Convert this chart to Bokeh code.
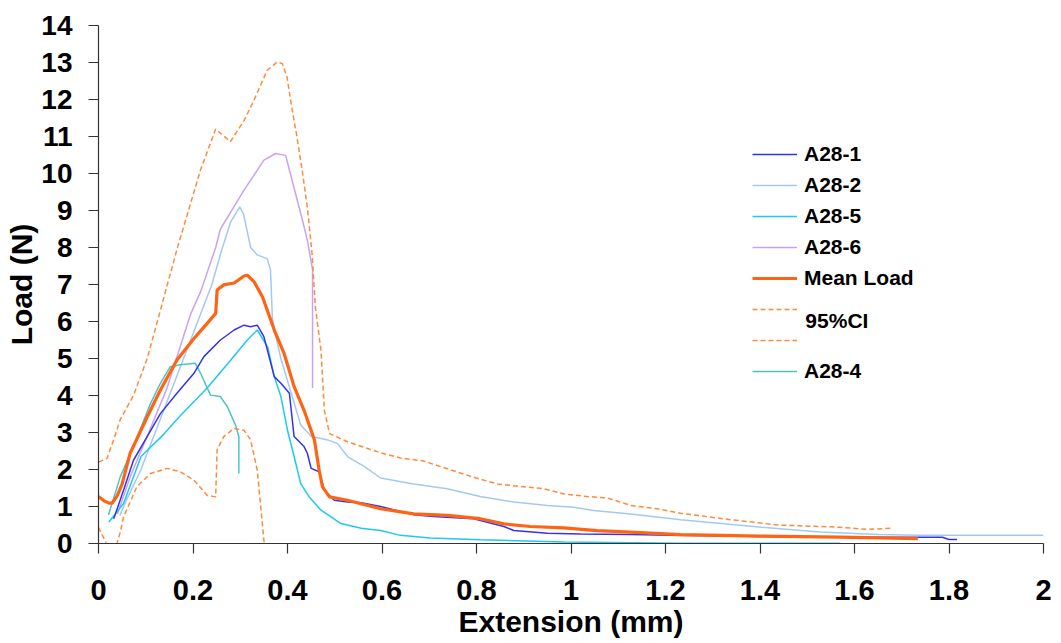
from bokeh.plotting import figure
from bokeh.models import Range1d, Legend, LegendItem, Label, FixedTicker
from bokeh.embed import file_html
from bokeh.resources import INLINE

# ---------------- data ----------------
a28_1_ext = [0.032, 0.035, 0.053, 0.074, 0.103, 0.131, 0.166, 0.202, 0.223, 0.258, 0.287, 0.308, 0.322, 0.336,
             0.350, 0.372, 0.386, 0.404, 0.414, 0.435, 0.442, 0.450, 0.467, 0.478, 0.499, 0.527, 0.556, 0.597,
             0.667, 0.709, 0.794, 0.858, 0.879, 0.950, 1.020, 1.126, 1.211, 1.400, 1.568, 1.786, 1.800, 1.817]
a28_1_load = [0.67, 0.77, 1.44, 2.25, 2.89, 3.51, 4.06, 4.60, 5.05, 5.50, 5.77, 5.90, 5.86, 5.90,
              5.59, 4.51, 4.33, 4.06, 2.89, 2.62, 2.44, 2.03, 1.94, 1.44, 1.17, 1.12, 1.10, 1.00,
              0.78, 0.73, 0.67, 0.46, 0.35, 0.28, 0.26, 0.24, 0.22, 0.19, 0.17, 0.17, 0.11, 0.11]

a28_2_ext = [0.045, 0.060, 0.090, 0.120, 0.150, 0.180, 0.210, 0.240, 0.260, 0.280, 0.299, 0.307, 0.322, 0.336,
             0.357, 0.364, 0.368, 0.372, 0.386, 0.407, 0.428, 0.450, 0.485, 0.506, 0.527, 0.563, 0.597,
             0.667, 0.738, 0.808, 0.879, 0.950, 1.006, 1.048, 1.126, 1.232, 1.404, 1.527, 1.651, 1.734, 2.000]
a28_2_load = [0.75, 1.20, 2.00, 3.00, 4.00, 5.00, 6.00, 7.00, 7.90, 8.70, 9.10, 8.90, 8.00, 7.80,
              7.70, 7.40, 6.10, 5.80, 5.00, 4.10, 3.20, 2.90, 2.80, 2.70, 2.35, 2.08, 1.77,
              1.61, 1.48, 1.27, 1.12, 1.03, 0.98, 0.89, 0.80, 0.64, 0.44, 0.31, 0.24, 0.22, 0.22]

a28_5_ext = [0.022, 0.053, 0.090, 0.138, 0.173, 0.230, 0.280, 0.315, 0.336, 0.358, 0.372, 0.386, 0.400,
             0.414, 0.428, 0.446, 0.471, 0.513, 0.556, 0.597, 0.639, 0.702, 0.808, 0.985, 1.232, 1.570]
a28_5_load = [0.58, 1.08, 2.35, 2.95, 3.45, 4.20, 4.96, 5.50, 5.77, 5.31, 4.51, 3.97, 3.06,
              2.35, 1.62, 1.26, 0.90, 0.54, 0.41, 0.35, 0.22, 0.15, 0.10, 0.04, 0.01, 0.01]

a28_6_ext = [0.040, 0.067, 0.103, 0.145, 0.195, 0.216, 0.248, 0.258, 0.308, 0.350, 0.375, 0.396, 0.406,
             0.428, 0.442, 0.452, 0.453, 0.453]
a28_6_load = [0.80, 1.80, 2.90, 4.20, 6.20, 6.80, 8.00, 8.50, 9.55, 10.36, 10.54, 10.49, 10.00,
              8.92, 8.20, 7.47, 7.40, 4.20]

mean_ext = [0.000, 0.011, 0.022, 0.029, 0.040, 0.050, 0.067, 0.103, 0.131, 0.166, 0.202, 0.230, 0.248, 0.251,
            0.265, 0.287, 0.308, 0.315, 0.329, 0.347, 0.372, 0.393, 0.414, 0.435, 0.457, 0.467, 0.474,
            0.489, 0.527, 0.597, 0.667, 0.738, 0.808, 0.858, 0.914, 0.985, 1.055, 1.126, 1.232, 1.400,
            1.568, 1.734]
mean_load = [1.27, 1.16, 1.09, 1.09, 1.30, 1.61, 2.44, 3.42, 4.15, 4.96, 5.54, 5.95, 6.22, 6.85,
             6.99, 7.04, 7.23, 7.25, 7.08, 6.67, 5.77, 5.13, 4.24, 3.60, 2.80, 1.98, 1.53,
             1.26, 1.17, 0.94, 0.80, 0.76, 0.67, 0.53, 0.46, 0.42, 0.35, 0.31, 0.24, 0.20,
             0.17, 0.13]

ci_upper_ext = [0.000, 0.018, 0.032, 0.046, 0.074, 0.103, 0.131, 0.166, 0.216, 0.248, 0.279, 0.308, 0.329,
                0.357, 0.378, 0.389, 0.399, 0.410, 0.420, 0.431, 0.442, 0.452, 0.459, 0.471, 0.478, 0.489,
                0.527, 0.597, 0.639, 0.688, 0.738, 0.794, 0.844, 0.893, 0.942, 0.985, 1.034, 1.077, 1.126,
                1.182, 1.232, 1.321, 1.437, 1.568, 1.627, 1.676]
ci_upper_load = [2.20, 2.30, 2.80, 3.35, 4.00, 5.00, 6.30, 7.95, 10.10, 11.20, 10.86, 11.43, 11.98,
                 12.79, 13.01, 12.97, 12.60, 11.71, 10.99, 10.09, 9.09, 7.83, 6.39, 5.20, 3.60, 2.97,
                 2.75, 2.45, 2.31, 2.23, 2.02, 1.79, 1.61, 1.54, 1.48, 1.34, 1.27, 1.23, 1.03,
                 0.94, 0.82, 0.67, 0.50, 0.44, 0.38, 0.41]

ci_lower_ext = [0.000, 0.015, 0.028, 0.040, 0.047, 0.053, 0.081, 0.110, 0.145, 0.173, 0.202, 0.230, 0.248,
                0.251, 0.265, 0.287, 0.308, 0.322, 0.336, 0.350, 0.360]
ci_lower_load = [0.44, 0.04, -0.40, 0.04, 0.35, 0.72, 1.53, 1.89, 2.03, 1.94, 1.71, 1.30, 1.26,
                 2.53, 2.89, 3.11, 3.06, 2.80, 1.98, 0.09, -0.50]

a28_4_ext = [0.021, 0.046, 0.074, 0.110, 0.131, 0.152, 0.173, 0.205, 0.216, 0.237, 0.258, 0.273, 0.290,
             0.297, 0.297]
a28_4_load = [0.77, 1.80, 2.62, 3.78, 4.33, 4.78, 4.83, 4.87, 4.60, 4.01, 3.97, 3.69, 3.20,
              2.89, 1.89]

x_ticks = [0, 0.2, 0.4, 0.6, 0.8, 1, 1.2, 1.4, 1.6, 1.8, 2]
x_tick_labels = ["0", "0.2", "0.4", "0.6", "0.8", "1", "1.2", "1.4", "1.6", "1.8", "2"]
y_ticks = list(range(0, 15))

# ---------------- figure ----------------
FONT = "Liberation Sans, Arial, sans-serif"

p = figure(width=1058, height=643, output_backend="svg", toolbar_location=None,
           x_range=Range1d(0, 2), y_range=Range1d(0, 14),
           min_border_left=98, min_border_right=15, min_border_top=25, min_border_bottom=100)
p.outline_line_color = None
p.grid.visible = False
p.background_fill_color = "white"
p.border_fill_color = "white"

for ax in (p.xaxis[0], p.yaxis[0]):
    ax.axis_line_color = "#333333"
    ax.axis_line_width = 1.2
    ax.major_tick_line_color = "#333333"
    ax.major_tick_line_width = 1.2
    ax.major_tick_out = 10
    ax.major_tick_in = 0
    ax.minor_tick_out = 0
    ax.minor_tick_in = 0
    ax.major_label_text_font = FONT
    ax.major_label_text_font_style = "bold"
    ax.major_label_text_font_size = "28px"
    ax.major_label_text_color = "black"
    ax.axis_label_text_font = FONT
    ax.axis_label_text_font_style = "bold"
    ax.axis_label_text_font_size = "30px"
    ax.axis_label_text_color = "black"
    ax.axis_label_standoff = 0

p.xaxis.ticker = FixedTicker(ticks=x_ticks)
p.xaxis.major_label_overrides = dict(zip(x_ticks, x_tick_labels))
p.xaxis.major_label_text_font_size = "29px"
p.xaxis.major_label_standoff = 26
p.xaxis.axis_label_standoff = 2
p.xaxis.axis_label = "Extension (mm)"
p.yaxis.ticker = FixedTicker(ticks=y_ticks)
p.yaxis.major_label_standoff = 16
p.yaxis.axis_label = "Load (N)"

r2 = p.line(a28_2_ext, a28_2_load, line_color="#A3C9F0", line_width=1.5)
r6 = p.line(a28_6_ext, a28_6_load, line_color="#C9A3F2", line_width=1.5)
r5 = p.line(a28_5_ext, a28_5_load, line_color="#1EC8F2", line_width=1.5)
r4 = p.line(a28_4_ext, a28_4_load, line_color="#4CC4C6", line_width=1.5)
r1 = p.line(a28_1_ext, a28_1_load, line_color="#3333EE", line_width=1.5)
rcu = p.line(ci_upper_ext, ci_upper_load, line_color="#FF8A3D", line_width=1.5, line_dash="5 3")
rcl = p.line(ci_lower_ext, ci_lower_load, line_color="#FF8A3D", line_width=1.5, line_dash="5 3")
rm = p.line(mean_ext, mean_load, line_color="#FF6414", line_width=3.2)

legend = Legend(items=[
    LegendItem(label="A28-1", renderers=[r1]),
    LegendItem(label="A28-2", renderers=[r2]),
    LegendItem(label="A28-5", renderers=[r5]),
    LegendItem(label="A28-6", renderers=[r6]),
    LegendItem(label="Mean Load", renderers=[rm]),
    LegendItem(label=" ", renderers=[rcu]),
    LegendItem(label=" ", renderers=[rcl]),
    LegendItem(label="A28-4", renderers=[r4]),
], location=(654, 158), glyph_width=45, glyph_height=28, label_height=28, spacing=3,
    padding=0, margin=0, label_standoff=7, label_text_font=FONT, label_text_font_style="bold",
    label_text_font_size="21px", label_text_color="black",
    background_fill_alpha=0, border_line_alpha=0)
p.add_layout(legend)

p.add_layout(Label(x=1.496, y=6.03, text="95%CI", text_font=FONT, text_font_style="bold",
                   text_font_size="21px", text_color="black", text_baseline="middle"))

open("out.html", "w").write(file_html(p, INLINE))
